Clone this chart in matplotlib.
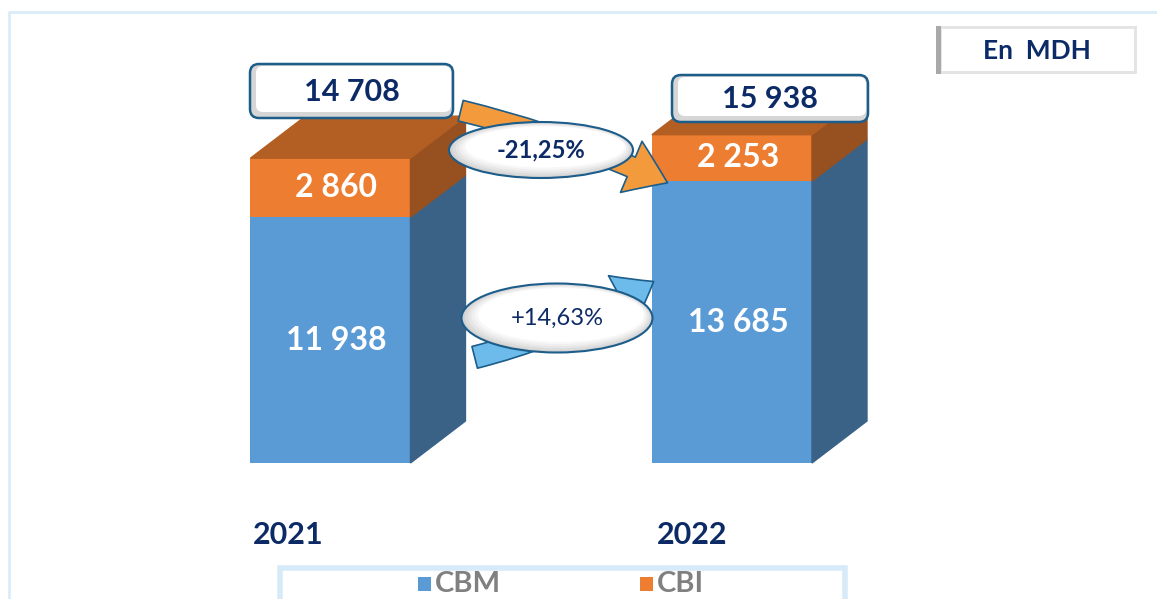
import matplotlib
matplotlib.use("Agg")
import matplotlib.pyplot as plt
from matplotlib.patches import Polygon, FancyBboxPatch, Ellipse, FancyArrowPatch, Rectangle

# data
years = ["2021", "2022"]
cbm = [11938, 13685]
cbi = [2860, 2253]
totals = ["14 708", "15 938"]
cbm_labels = ["11 938", "13 685"]
cbi_labels = ["2 860", "2 253"]
changes = ["-21,25%", "+14,63%"]
series_names = ["CBM", "CBI"]
unit_label = "En  MDH"

BLUE = "#5b9bd5"
BLUE_SIDE = "#3a6287"
ORANGE = "#ed7d31"
ORANGE_TOP = "#b35e22"
ORANGE_SIDE = "#97501f"
NAVY = "#0c2b66"
EDGE = "#1d5d8a"

plt.rcParams["font.family"] = ["Lato", "DejaVu Sans"]

W, H = 1157, 599
fig = plt.figure(figsize=(W / 100, H / 100), dpi=100)

# main axes in data units (x = category index, y = value)
ax = fig.add_axes([0, 0, 1, 1])
ax.set_xlim(-0.823, 2.0585)
ax.set_ylim(-6602, 22476)
ax.axis("off")

bar_w = 0.3985
dx = 0.137
dy = 2039

for i in range(len(years)):
    xl = i - bar_w / 2
    xr = i + bar_w / 2
    b = cbm[i]
    t = cbm[i] + cbi[i]
    # front faces
    ax.bar(i, cbm[i], width=bar_w, color=BLUE, zorder=2)
    ax.bar(i, cbi[i], bottom=cbm[i], width=bar_w, color=ORANGE, zorder=2)
    # side faces
    ax.add_patch(Polygon([(xr, 0), (xr + dx, dy), (xr + dx, b + dy), (xr, b)],
                         closed=True, color=BLUE_SIDE, zorder=2))
    ax.add_patch(Polygon([(xr, b), (xr + dx, b + dy), (xr + dx, t + dy), (xr, t)],
                         closed=True, color=ORANGE_SIDE, zorder=2))
    # top face
    ax.add_patch(Polygon([(xl, t), (xl + dx, t + dy), (xr + dx, t + dy), (xr, t)],
                         closed=True, color=ORANGE_TOP, zorder=2))
    # segment labels
    ax.text(i + 0.015, cbm[i] / 2, cbm_labels[i], color="white", fontsize=23,
            fontweight="bold", ha="center", va="center", zorder=3)
    ax.text(i + 0.015, cbm[i] + cbi[i] / 2, cbi_labels[i], color="white", fontsize=23,
            fontweight="bold", ha="center", va="center", zorder=3)

# overlay axes in pixel coordinates for the decorations
ov = fig.add_axes([0, 0, 1, 1])
ov.set_xlim(0, W)
ov.set_ylim(H, 0)
ov.axis("off")
ov.patch.set_alpha(0)

# outer frame
ov.plot([9, 9, W], [H, 12, 12], color="#d9ecf9", lw=2, zorder=1)

# year labels
for i, yx in enumerate([253, 657]):
    ov.text(yx, 535, years[i], color=NAVY, fontsize=22, fontweight="bold",
            ha="left", va="center")

# arrows
ov.add_patch(FancyArrowPatch((458, 110), (670, 184), connectionstyle="arc3,rad=-0.05",
                             arrowstyle="simple,head_length=1.5,head_width=2.1,tail_width=0.8",
                             mutation_scale=19, fc="#f39b3c", ec=EDGE, lw=1.2, zorder=4))
ov.add_patch(FancyArrowPatch((472, 358), (656, 280), connectionstyle="arc3,rad=0.08",
                             arrowstyle="simple,head_length=1.4,head_width=2.1,tail_width=0.85",
                             mutation_scale=19, fc="#6dbbea", ec=EDGE, lw=1.2, zorder=4))

# change ellipses (soft grey rim, white centre)
shades = ["#d2d2d2", "#dcdcdc", "#e6e6e6", "#efefef", "#f7f7f7", "#ffffff"]
for (cx, cy, ew, eh), txt, wt in zip([(541, 150, 184, 56), (557, 318, 191, 69)],
                                     changes, ["bold", "normal"]):
    for k, c in enumerate(shades):
        ov.add_patch(Ellipse((cx + 0.8 * k, cy - 0.6 * k), ew - 5 * k, eh - 3 * k,
                             fc=c, ec="none", zorder=5))
    ov.add_patch(Ellipse((cx, cy), ew, eh, fc="none", ec=EDGE, lw=1.5, zorder=5))
    ov.text(cx, cy, txt, color=NAVY, fontsize=17, fontweight=wt,
            ha="center", va="center", zorder=6)

# total boxes
for (x0, y0, x1, y1), txt in zip([(250, 64, 453, 118), (672, 75, 868, 122)], totals):
    ov.add_patch(FancyBboxPatch((x0, y0), x1 - x0, y1 - y0,
                                boxstyle="round,pad=0,rounding_size=9",
                                fc="#d6d6d6", ec="none", zorder=5))
    ov.add_patch(FancyBboxPatch((x0 + 6, y0 + 2), x1 - x0 - 8, y1 - y0 - 8,
                                boxstyle="round,pad=0,rounding_size=7",
                                fc="white", ec="none", zorder=5))
    ov.add_patch(FancyBboxPatch((x0, y0), x1 - x0, y1 - y0,
                                boxstyle="round,pad=0,rounding_size=9",
                                fc="none", ec=EDGE, lw=1.8, zorder=5))
    ov.text((x0 + x1) / 2, (y0 + y1) / 2 + 1, txt, color=NAVY, fontsize=22,
            fontweight="bold", ha="center", va="center", zorder=6)

# unit box
ov.add_patch(Rectangle((936, 26), 201, 48, fc="#e4e4e4", ec="none", zorder=5))
ov.add_patch(Rectangle((942, 29), 192, 42, fc="white", ec="none", zorder=5))
ov.add_patch(Rectangle((936, 26), 5, 48, fc="#a9a9a9", ec="none", zorder=5))
ov.text(1037, 51, unit_label, color=NAVY, fontsize=19, fontweight="bold",
        ha="center", va="center", zorder=6)

# legend
ov.add_patch(Rectangle((280, 568), 565, 40, fc="white", ec="#d6eaf7", lw=4, zorder=5))
for sx, name, col in zip([418, 640], series_names, [BLUE, ORANGE]):
    ov.add_patch(Rectangle((sx, 577), 13, 14, fc=col, ec="none", zorder=6))
    ov.text(sx + 17, 584, name, color="#808080", fontsize=21, fontweight="bold",
            ha="left", va="center", zorder=6)

fig.savefig("out.png", dpi=100)
